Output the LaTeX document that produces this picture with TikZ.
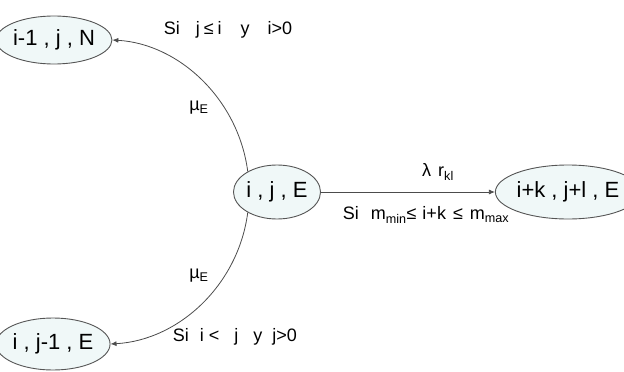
\documentclass[tikz,border=0pt]{standalone}
\usepackage{fontspec}
\setmainfont{Liberation Sans}
\usetikzlibrary{shapes.geometric,arrows.meta}
\definecolor{efill}{RGB}{240,248,248}
\definecolor{eline}{RGB}{85,85,85}
\tikzset{
  st/.style={ellipse, draw=eline, fill=efill, line width=0.9pt, inner sep=0pt,
    font=\fontsize{22}{24}\selectfont},
  conn/.style={draw=black!70, line width=0.8pt, -{Latex[length=6pt,width=5pt]}},
  lab/.style={font=\fontsize{18}{20}\selectfont, inner sep=1pt}
}
\begin{document}
\begin{tikzpicture}[x=1pt,y=-1pt]
\useasboundingbox (0,0) rectangle (624,372);
\node[st, minimum width=100pt, minimum height=48pt] (A) at (54,40) {i-1 , j , N};
\node[st, minimum width=100pt, minimum height=52pt] (B) at (53,344) {i , j-1 , E};
\node[st, minimum width=87pt, minimum height=54pt] (C) at (277,192) {i , j , E};
\node[st, minimum width=110pt, minimum height=54pt] (D) at (568,192) {i+k , j+l , E};
\draw[conn] (C.145) .. controls (238.3,98.9) and (178.7,43.8) .. (A.east);
\draw[conn] (C.215) .. controls (238.3,285.1) and (178.7,340.2) .. (B.east);
\draw[conn] (C.east) -- (D.west);
\node[lab] (t1) at (228,30) {Si\hspace{16pt}j\hspace{4pt}≤\hspace{4pt}i\hspace{19pt}y\hspace{18pt}i>0};
\node[lab] (m1) at (199,108) {µ\textsubscript{E}};
\node[lab] (m2) at (199,276) {µ\textsubscript{E}};
\node[lab] (t2) at (235,337) {Si\hspace{11pt}i\hspace{5pt}<\hspace{15pt}j\hspace{15pt}y\hspace{10pt}j>0};
\node[lab] (l1) at (438,172) {λ\hspace{7pt}r\textsubscript{kl}};
\node[lab] (t3) at (426,215) {Si\hspace{12pt}m\textsubscript{min}≤\hspace{6pt}i+k\hspace{7pt}≤\hspace{7pt}m\textsubscript{max}};
\end{tikzpicture}
\end{document}
